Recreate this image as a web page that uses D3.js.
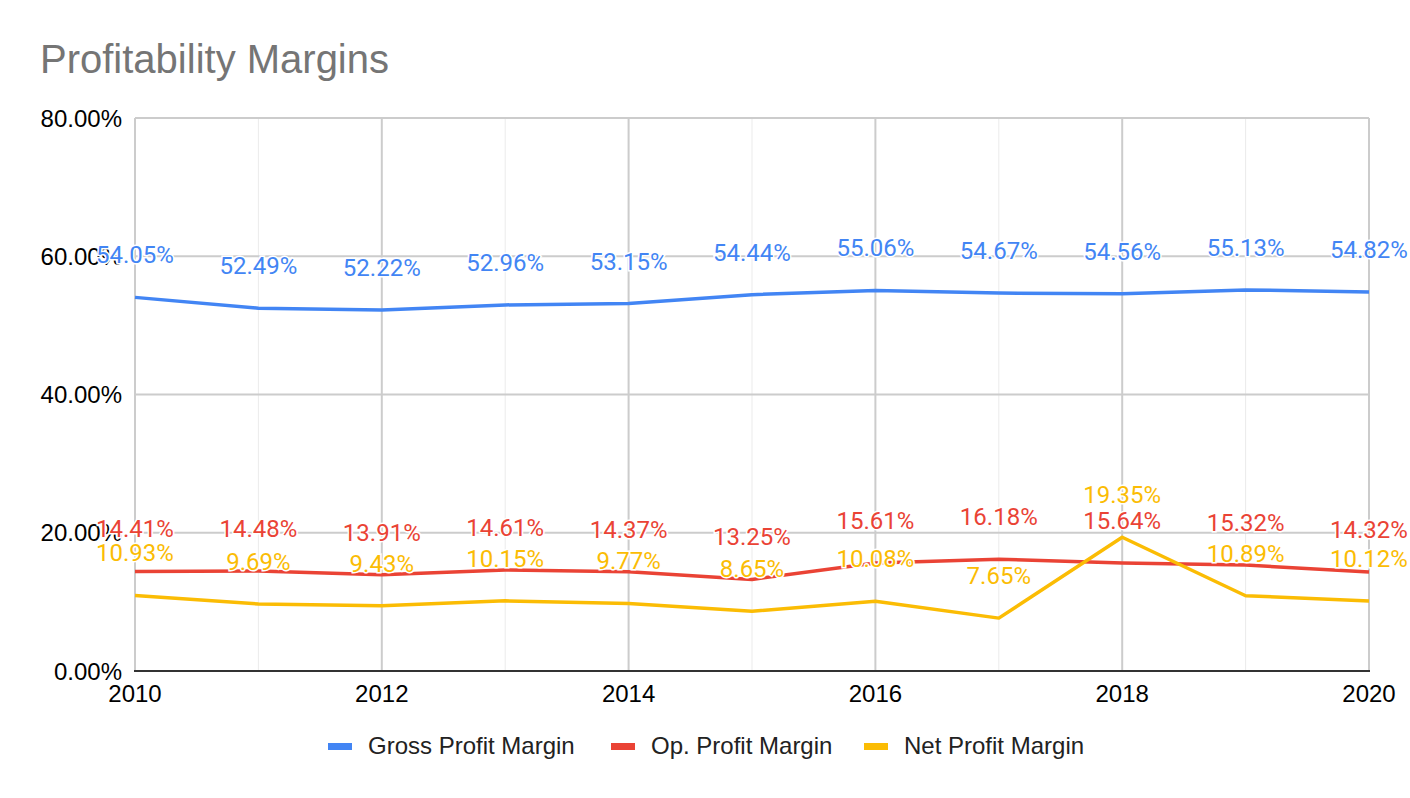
<!DOCTYPE html>
<meta charset="utf-8">
<script src="https://d3js.org/d3.v7.min.js"></script>
<style>
  body { margin: 0; background: #fff; }
</style>
<div id="chart"></div>
<script>
  // data
  var years = [2010, 2011, 2012, 2013, 2014, 2015, 2016, 2017, 2018, 2019, 2020];
  var grossMargin = [54.05, 52.49, 52.22, 52.96, 53.15, 54.44, 55.06, 54.67, 54.56, 55.13, 54.82];
  var opMargin = [14.41, 14.48, 13.91, 14.61, 14.37, 13.25, 15.61, 16.18, 15.64, 15.32, 14.32];
  var netMargin = [10.93, 9.69, 9.43, 10.15, 9.77, 8.65, 10.08, 7.65, 19.35, 10.89, 10.12];
  var seriesNames = ["Gross Profit Margin", "Op. Profit Margin", "Net Profit Margin"];
  var yTicks = [0, 20, 40, 60, 80];
  var xTicks = [2010, 2012, 2014, 2016, 2018, 2020];

  var colors = ["#4285f4", "#ea4335", "#fbbc04"];
  var series = [grossMargin, opMargin, netMargin];

  var W = 1410, H = 798;
  var margin = { top: 118, right: 41, bottom: 127, left: 135 };

  var svg = d3.select("#chart").append("svg")
    .attr("width", W)
    .attr("height", H);

  var x = d3.scaleLinear().domain([2010, 2020]).range([margin.left, W - margin.right]);
  var y = d3.scaleLinear().domain([0, 80]).range([H - margin.bottom, margin.top]);

  // title
  svg.append("text")
    .attr("x", 40)
    .attr("y", 73)
    .attr("font-family", "Liberation Sans, Arial, sans-serif")
    .attr("font-size", 40)
    .attr("fill", "#757575")
    .text("Profitability Margins");

  // minor vertical gridlines (odd years)
  svg.append("g")
    .selectAll("line")
    .data(years.filter(function (d) { return d % 2 === 1; }))
    .join("line")
    .attr("x1", function (d) { return x(d); })
    .attr("x2", function (d) { return x(d); })
    .attr("y1", y(80))
    .attr("y2", y(0))
    .attr("stroke", "#ebebeb")
    .attr("stroke-width", 1);

  // major gridlines
  svg.append("g")
    .selectAll("line")
    .data(xTicks)
    .join("line")
    .attr("x1", function (d) { return x(d); })
    .attr("x2", function (d) { return x(d); })
    .attr("y1", y(80))
    .attr("y2", y(0))
    .attr("stroke", "#cccccc")
    .attr("stroke-width", 2);

  svg.append("g")
    .selectAll("line")
    .data(yTicks.filter(function (d) { return d > 0; }))
    .join("line")
    .attr("x1", x(2010))
    .attr("x2", x(2020))
    .attr("y1", function (d) { return y(d); })
    .attr("y2", function (d) { return y(d); })
    .attr("stroke", "#cccccc")
    .attr("stroke-width", 2);

  // baseline
  svg.append("line")
    .attr("x1", x(2010) - 1)
    .attr("x2", x(2020) + 1)
    .attr("y1", y(0))
    .attr("y2", y(0))
    .attr("stroke", "#333333")
    .attr("stroke-width", 2);

  // y axis labels
  svg.append("g")
    .selectAll("text")
    .data(yTicks)
    .join("text")
    .attr("x", margin.left - 13)
    .attr("y", function (d) { return y(d) + 8.5; })
    .attr("text-anchor", "end")
    .attr("font-family", "Liberation Sans, Arial, sans-serif")
    .attr("font-size", 24)
    .attr("fill", "#000")
    .text(function (d) { return d.toFixed(2) + "%"; });

  // x axis labels
  svg.append("g")
    .selectAll("text")
    .data(xTicks)
    .join("text")
    .attr("x", function (d) { return x(d); })
    .attr("y", y(0) + 31)
    .attr("text-anchor", "middle")
    .attr("font-family", "Liberation Sans, Arial, sans-serif")
    .attr("font-size", 24)
    .attr("fill", "#000")
    .text(function (d) { return d; });

  // lines
  var line = d3.line()
    .x(function (d, i) { return x(years[i]); })
    .y(function (d) { return y(d); });

  series.forEach(function (s, k) {
    svg.append("path")
      .datum(s)
      .attr("fill", "none")
      .attr("stroke", colors[k])
      .attr("stroke-width", 3.5)
      .attr("stroke-linejoin", "round")
      .attr("d", line);
  });

  // data labels above the points
  series.forEach(function (s, k) {
    svg.append("g")
      .selectAll("text")
      .data(s)
      .join("text")
      .attr("x", function (d, i) { return x(years[i]); })
      .attr("y", function (d) { return y(d) - 34; })
      .attr("text-anchor", "middle")
      .attr("font-family", "Roboto, sans-serif")
      .attr("font-size", 24)
      .attr("fill", colors[k])
      .attr("stroke", "#fff")
      .attr("stroke-width", 3)
      .attr("paint-order", "stroke")
      .text(function (d) { return d.toFixed(2) + "%"; });
  });

  // legend
  var legendX = [328, 611, 864];
  var legend = svg.append("g")
    .selectAll("g")
    .data(seriesNames)
    .join("g")
    .attr("transform", function (d, i) { return "translate(" + legendX[i] + ",746)"; });

  legend.append("rect")
    .attr("x", 0)
    .attr("y", -3)
    .attr("width", 24)
    .attr("height", 7)
    .attr("fill", function (d, i) { return colors[i]; });

  legend.append("text")
    .attr("x", 40)
    .attr("y", 8)
    .attr("font-family", "Liberation Sans, Arial, sans-serif")
    .attr("font-size", 24)
    .attr("fill", "#222")
    .text(function (d) { return d; });
</script>
